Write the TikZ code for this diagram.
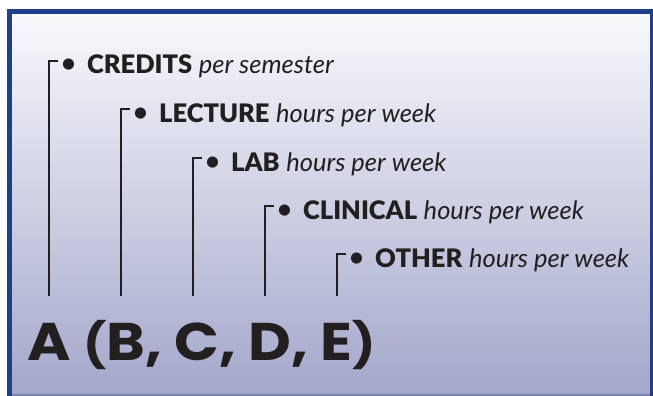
\documentclass[tikz,border=0pt]{standalone}
\usepackage{fontspec}
\setmainfont{Lato}[BoldFont={Lato Black}]
\newfontfamily\bigfont{Poppins}[FakeStretch=1.11]
\usetikzlibrary{calc}
\definecolor{frameblue}{HTML}{1F3F8A}
\definecolor{bottomline}{HTML}{7F84AE}
\definecolor{bgtop}{HTML}{F9F9FC}
\definecolor{bgbot}{HTML}{A3A7CB}
\definecolor{txt}{HTML}{231F20}
\newcommand{\bulletmark}{\llap{{\fontsize{30}{30}\selectfont•}\hspace{10pt}}}
\newcommand{\smallparen}[1]{{\fontsize{44}{50}\selectfont #1}}
\begin{document}
\begin{tikzpicture}[x=1pt,y=-1pt,
  lbl/.style={anchor=base west, inner sep=0pt, text=txt,
    font=\fontsize{25.5}{30}\selectfont},
  bracket/.style={draw=txt, line width=2.5pt, line join=miter},
  bigtext/.style={anchor=base west, inner sep=0pt, text=txt,
    font=\bigfont\bfseries\fontsize{53}{60}\selectfont}]
\useasboundingbox (0,0) rectangle (653,396);
% background and frame
\shade[top color=bgtop, bottom color=bgbot] (12,14) rectangle (650,394);
\fill[frameblue] (7,9) rectangle (653,14);
\fill[frameblue] (7,9) rectangle (12,396);
\fill[frameblue] (650,9) rectangle (653,396);
\fill[bottomline] (12,394) rectangle (650,396);
% labels
\node[lbl] (la) at (87,74)  {\bulletmark\textbf{CREDITS} \textit{per semester}};
\node[lbl] (lb) at (159,122) {\bulletmark\textbf{LECTURE} \textit{hours per week}};
\node[lbl] (lc) at (231,171) {\bulletmark\textbf{LAB} \textit{hours per week}};
\node[lbl] (ld) at (303,219) {\bulletmark\textbf{CLINICAL} \textit{hours per week}};
\node[lbl] (le) at (375,267) {\bulletmark\textbf{OTHER} \textit{hours per week}};
% big code
\node[bigtext] (big) at (27,360) {A \smallparen{(}B, C, D, E\smallparen{)}};
% bracket ends
\coordinate (ea) at (49,296);
\coordinate (eb) at (121,296);
\coordinate (ec) at (193,296);
\coordinate (ed) at (265,296);
\coordinate (ee) at (337,296);
\draw[bracket] (ea) |- ($(la.base west)+(-29,-13)$);
\draw[bracket] (eb) |- ($(lb.base west)+(-29,-13)$);
\draw[bracket] (ec) |- ($(lc.base west)+(-29,-13)$);
\draw[bracket] (ed) |- ($(ld.base west)+(-29,-13)$);
\draw[bracket] (ee) |- ($(le.base west)+(-29,-13)$);
\end{tikzpicture}
\end{document}
